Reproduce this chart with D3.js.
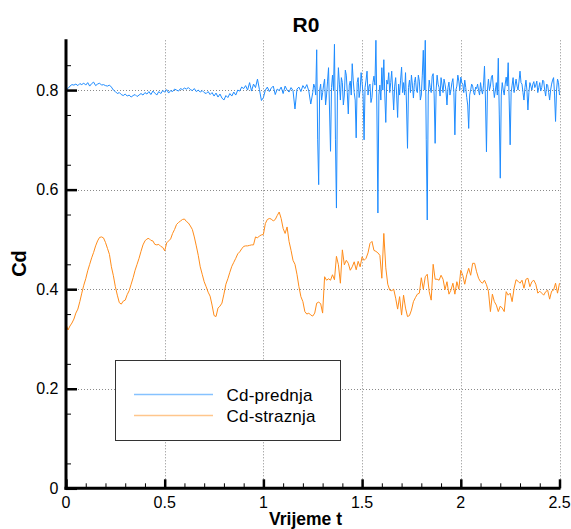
<!DOCTYPE html>
<html>
<head>
<meta charset="utf-8">
<script src="https://cdn.jsdelivr.net/npm/d3@7"></script>
<style>
  html, body { margin: 0; padding: 0; background: #fff; }
  svg { display: block; font-family: "Liberation Sans", Arial, sans-serif; }
</style>
</head>
<body>
<svg id="chart" width="571" height="529"></svg>
<script>
// ---- data ----
const title = "R0";
const xLabel = "Vrijeme t";
const yLabel = "Cd";
const seriesNames = ["Cd-prednja", "Cd-straznja"];
const xTicks = [0, 0.5, 1, 1.5, 2, 2.5];
const xTickLabels = ["0", "0.5", "1", "1.5", "2", "2.5"];
const yTicks = [0, 0.2, 0.4, 0.6, 0.8];
const yTickLabels = ["0", "0.2", "0.4", "0.6", "0.8"];

// Cd-prednja, part 1: t = 0 .. 1.24, sampled every 0.01
const prednjaStartA = 0, prednjaStepA = 0.01;
const cdPrednjaA = [
  0.801,0.803,0.808,0.811,0.810,0.812,0.809,0.813,0.811,0.814,
  0.810,0.815,0.808,0.813,0.816,0.809,0.812,0.814,0.810,0.811,
  0.809,0.808,0.810,0.806,0.800,0.797,0.793,0.795,0.791,0.789,
  0.792,0.788,0.790,0.786,0.789,0.791,0.787,0.790,0.793,0.790,
  0.795,0.792,0.797,0.791,0.798,0.794,0.790,0.797,0.793,0.799,
  0.796,0.801,0.794,0.799,0.797,0.802,0.800,0.798,0.803,0.801,
  0.804,0.802,0.805,0.801,0.799,0.803,0.797,0.800,0.796,0.799,
  0.795,0.793,0.797,0.791,0.795,0.788,0.794,0.786,0.792,0.784,
  0.780,0.789,0.785,0.793,0.788,0.796,0.790,0.800,0.798,0.806,
  0.803,0.809,0.800,0.815,0.798,0.812,0.805,0.822,0.801,0.779,
  0.785,0.800,0.806,0.797,0.804,0.808,0.791,0.802,0.799,0.806,
  0.793,0.808,0.800,0.796,0.805,0.799,0.762,0.802,0.806,0.797,
  0.809,0.803,0.811,0.798,0.772
];
// Cd-prednja, part 2: t = 1.25 .. 2.5, sampled every 0.005
const prednjaStartB = 1.25, prednjaStepB = 0.005;
const cdPrednjaB = [
  0.795,0.812,0.806,0.790,0.881,0.700,0.610,0.800,0.812,0.780,
  0.795,0.810,0.822,0.770,0.790,0.818,0.845,0.760,0.677,0.805,
  0.830,0.800,0.892,0.700,0.563,0.790,0.845,0.812,0.780,0.825,
  0.815,0.770,0.790,0.840,0.830,0.795,0.752,0.810,0.818,0.790,
  0.853,0.820,0.795,0.780,0.704,0.815,0.825,0.785,0.800,0.835,
  0.815,0.790,0.700,0.805,0.820,0.838,0.790,0.808,0.812,0.775,
  0.785,0.815,0.828,0.810,0.900,0.760,0.553,0.790,0.810,0.780,
  0.845,0.800,0.861,0.790,0.735,0.820,0.812,0.835,0.795,0.815,
  0.838,0.800,0.760,0.808,0.825,0.790,0.745,0.812,0.790,0.820,
  0.846,0.795,0.815,0.790,0.835,0.770,0.683,0.805,0.820,0.795,
  0.830,0.810,0.784,0.815,0.826,0.800,0.795,0.830,0.818,0.780,
  0.790,0.830,0.880,0.800,0.900,0.700,0.539,0.790,0.820,0.805,
  0.795,0.828,0.833,0.790,0.693,0.800,0.830,0.812,0.805,0.788,
  0.825,0.810,0.795,0.822,0.812,0.798,0.770,0.805,0.816,0.790,
  0.800,0.815,0.823,0.795,0.710,0.800,0.808,0.830,0.818,0.800,
  0.826,0.815,0.812,0.795,0.820,0.805,0.785,0.770,0.723,0.790,
  0.800,0.812,0.808,0.795,0.790,0.806,0.803,0.812,0.799,0.790,
  0.815,0.800,0.792,0.810,0.848,0.780,0.676,0.800,0.822,0.800,
  0.808,0.826,0.830,0.805,0.785,0.800,0.815,0.790,0.864,0.750,
  0.623,0.790,0.815,0.800,0.790,0.812,0.826,0.808,0.855,0.780,
  0.690,0.795,0.810,0.825,0.795,0.810,0.822,0.808,0.800,0.818,
  0.838,0.815,0.812,0.795,0.780,0.805,0.820,0.800,0.760,0.795,
  0.815,0.808,0.800,0.812,0.817,0.805,0.810,0.818,0.795,0.805,
  0.815,0.798,0.805,0.820,0.818,0.800,0.788,0.812,0.810,0.795,
  0.780,0.800,0.812,0.820,0.825,0.790,0.737,0.800,0.822,0.815,
  0.790
];

// Cd-straznja: t = 0 .. 2.5, sampled every 0.01
const straznjaStart = 0, straznjaStep = 0.01;
const cdStraznja = [
  0.330,0.318,0.326,0.332,0.340,0.352,0.360,0.375,0.392,0.408,
  0.421,0.437,0.450,0.463,0.474,0.487,0.497,0.504,0.505,0.503,
  0.494,0.482,0.470,0.445,0.427,0.405,0.388,0.373,0.370,0.376,
  0.378,0.389,0.397,0.410,0.423,0.438,0.450,0.462,0.476,0.489,
  0.497,0.501,0.502,0.498,0.497,0.490,0.489,0.490,0.486,0.484,
  0.477,0.493,0.497,0.501,0.512,0.520,0.530,0.534,0.537,0.540,
  0.541,0.536,0.533,0.527,0.520,0.505,0.487,0.468,0.445,0.430,
  0.415,0.405,0.394,0.386,0.368,0.347,0.345,0.362,0.366,0.372,
  0.390,0.410,0.421,0.434,0.446,0.454,0.462,0.471,0.475,0.481,
  0.486,0.487,0.487,0.488,0.489,0.489,0.505,0.503,0.507,0.509,
  0.510,0.532,0.540,0.542,0.541,0.537,0.540,0.548,0.555,0.542,
  0.522,0.512,0.525,0.496,0.478,0.458,0.450,0.430,0.405,0.385,
  0.375,0.355,0.350,0.352,0.348,0.346,0.352,0.372,0.374,0.371,
  0.352,0.425,0.418,0.421,0.418,0.429,0.419,0.466,0.449,0.412,
  0.479,0.449,0.458,0.452,0.438,0.445,0.455,0.439,0.456,0.445,
  0.465,0.458,0.462,0.473,0.492,0.496,0.478,0.476,0.473,0.468,
  0.422,0.512,0.443,0.410,0.398,0.397,0.400,0.382,0.360,0.385,
  0.348,0.388,0.362,0.345,0.347,0.358,0.375,0.383,0.390,0.392,
  0.423,0.400,0.425,0.430,0.395,0.378,0.450,0.420,0.420,0.418,
  0.428,0.420,0.399,0.415,0.390,0.398,0.412,0.390,0.415,0.400,
  0.438,0.428,0.410,0.429,0.442,0.428,0.452,0.452,0.435,0.422,
  0.415,0.412,0.418,0.409,0.396,0.355,0.390,0.375,0.368,0.355,
  0.366,0.362,0.355,0.395,0.388,0.392,0.375,0.402,0.419,0.416,
  0.412,0.418,0.402,0.420,0.422,0.405,0.415,0.418,0.410,0.392,
  0.396,0.392,0.388,0.395,0.398,0.380,0.396,0.398,0.412,0.392,
  0.412
];

const colors = ["#1e8cff", "#ff8c1a"];
const legendColors = ["#86c2ff", "#ffc68c"];

// ---- build point lists ----
const prednjaPts = cdPrednjaA.map((v, i) => [prednjaStartA + i * prednjaStepA, v])
  .concat(cdPrednjaB.map((v, i) => [prednjaStartB + i * prednjaStepB, v]));
const straznjaPts = cdStraznja.map((v, i) => [straznjaStart + i * straznjaStep, v]);

// ---- layout ----
const svg = d3.select("#chart");
const mLeft = 66, mRight = 559.5, mTop = 40.3, mBottom = 488.3;

const x = d3.scaleLinear().domain([0, 2.5]).range([mLeft, mRight]);
const y = d3.scaleLinear().domain([0, 0.9]).range([mBottom, mTop]);

// grid
const grid = svg.append("g").attr("stroke", "#8a8a8a").attr("stroke-width", 1)
  .attr("stroke-dasharray", "1,2");
xTicks.filter(d => d > 0).forEach(d => {
  grid.append("line").attr("x1", Math.round(x(d)) + 0.5).attr("x2", Math.round(x(d)) + 0.5)
    .attr("y1", mTop).attr("y2", mBottom);
});
yTicks.filter(d => d > 0).forEach(d => {
  grid.append("line").attr("y1", Math.round(y(d)) + 0.5).attr("y2", Math.round(y(d)) + 0.5)
    .attr("x1", mLeft).attr("x2", mRight);
});

// lines
const line = d3.line().x(d => x(d[0])).y(d => y(d[1]));
svg.append("path").datum(straznjaPts).attr("d", line)
  .attr("fill", "none").attr("stroke", colors[1]).attr("stroke-width", 1);
svg.append("path").datum(prednjaPts).attr("d", line)
  .attr("fill", "none").attr("stroke", colors[0]).attr("stroke-width", 1);

// axes (ticks drawn inward)
const yAxis = d3.axisRight(y).tickValues(yTicks).tickSize(11).tickFormat("");
const gY = svg.append("g").attr("transform", `translate(${mLeft},0)`).call(yAxis);
gY.select(".domain").remove();
gY.selectAll(".tick line").attr("stroke", "#000").attr("stroke-width", 2.5);

const yMinor = d3.axisRight(y).tickValues(d3.range(0.05, 0.91, 0.1)).tickSize(5).tickFormat("");
const gYm = svg.append("g").attr("transform", `translate(${mLeft},0)`).call(yMinor);
gYm.select(".domain").remove();
gYm.selectAll(".tick line").attr("stroke", "#000").attr("stroke-width", 1);

const xAxis = d3.axisTop(x).tickValues(xTicks).tickSize(9).tickFormat("");
const gX = svg.append("g").attr("transform", `translate(0,${mBottom})`).call(xAxis);
gX.select(".domain").remove();
gX.selectAll(".tick line").attr("stroke", "#000").attr("stroke-width", 2.5);

const xMinorVals = d3.range(1, 25).map(i => i / 10).filter(v => Math.abs(v * 2 - Math.round(v * 2)) > 1e-6);
const xMinor = d3.axisTop(x).tickValues(xMinorVals).tickSize(5).tickFormat("");
const gXm = svg.append("g").attr("transform", `translate(0,${mBottom})`).call(xMinor);
gXm.select(".domain").remove();
gXm.selectAll(".tick line").attr("stroke", "#000").attr("stroke-width", 1);

// axis spines
svg.append("line").attr("x1", mLeft).attr("x2", mLeft).attr("y1", mTop - 1).attr("y2", mBottom + 1.5)
  .attr("stroke", "#000").attr("stroke-width", 3);
svg.append("line").attr("x1", mLeft - 1.5).attr("x2", mRight + 1).attr("y1", mBottom).attr("y2", mBottom)
  .attr("stroke", "#000").attr("stroke-width", 3);

// tick labels
svg.append("g").selectAll("text").data(xTicks).join("text")
  .attr("x", d => x(d)).attr("y", 507.5).attr("text-anchor", "middle")
  .attr("font-size", 16).attr("fill", "#000")
  .text((d, i) => xTickLabels[i]);
svg.append("g").selectAll("text").data(yTicks).join("text")
  .attr("x", 58.5).attr("y", d => y(d) + 5.5).attr("text-anchor", "end")
  .attr("font-size", 16).attr("fill", "#000")
  .text((d, i) => yTickLabels[i]);

// titles
svg.append("text").attr("x", 306).attr("y", 32).attr("text-anchor", "middle")
  .attr("font-size", 21).attr("font-weight", "bold").text(title);
svg.append("text").attr("x", 305.5).attr("y", 524.5).attr("text-anchor", "middle")
  .attr("font-size", 17.5).attr("font-weight", "bold").text(xLabel);
svg.append("text").attr("transform", "translate(25.5,263.5) rotate(-90)").attr("text-anchor", "middle")
  .attr("font-size", 20).attr("font-weight", "bold").text(yLabel);

// legend
const lg = svg.append("g");
lg.append("rect").attr("x", 115.5).attr("y", 360.5).attr("width", 225).attr("height", 80)
  .attr("fill", "#fff").attr("stroke", "#333").attr("stroke-width", 1);
const legendY = [394.5, 415.5];
seriesNames.forEach((name, i) => {
  lg.append("line").attr("x1", 134).attr("x2", 213).attr("y1", legendY[i]).attr("y2", legendY[i])
    .attr("stroke", legendColors[i]).attr("stroke-width", 1.6);
  lg.append("text").attr("x", 226.5).attr("y", legendY[i] + 6).attr("font-size", 17)
    .attr("letter-spacing", 0.2).attr("fill", "#000").text(name);
});
</script>
</body>
</html>
